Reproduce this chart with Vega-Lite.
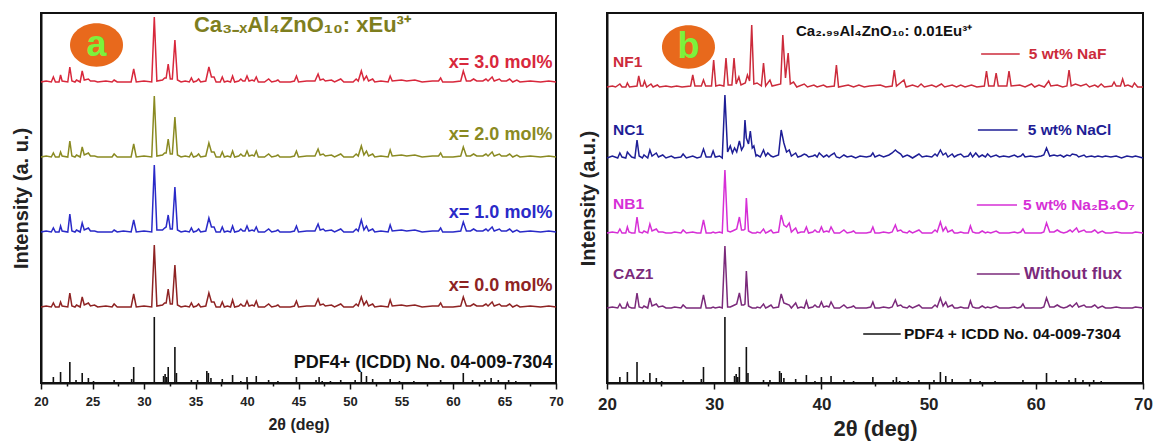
{
"$schema": "https://vega.github.io/schema/vega-lite/v6.json",
"padding": {"left": 10, "top": 12, "right": 5, "bottom": 2},
"background": "white",
"config": {
 "font": "Liberation Sans",
 "view": {"stroke": "#111", "strokeWidth": 2},
 "axis": {"grid": false, "domainColor": "#111", "domainWidth": 2, "tickColor": "#111", "tickWidth": 1.5, "labelColor": "#222", "titleColor": "#222", "labelFontWeight": "bold", "titleFontWeight": "bold", "labelFont": "Liberation Sans", "titleFont": "Liberation Sans"},
 "text": {"fontWeight": "bold", "font": "Liberation Sans"}
},
"resolve": {"scale": {"color": "independent"}},
"datasets": {
 "L": [
{"x":20,"d":76,"b":151,"o":226,"r":301},{"x":20.5,"d":77,"b":152,"o":227,"r":302},{"x":21,"d":76,"b":151,"o":226,"r":301},{"x":21.2,"d":80,"b":155,"o":230,"r":306},{"x":21.4,"d":76,"b":151,"o":226,"r":301},{"x":21.75,"d":76,"b":151,"o":226,"r":301},{"x":21.9,"d":81,"b":157,"o":231,"r":308},{"x":22.05,"d":77,"b":152,"o":227,"r":302},{"x":22.6,"d":76,"b":151,"o":226,"r":301},{"x":22.8,"d":90,"b":169,"o":242,"r":316},{"x":23,"d":77,"b":152,"o":227,"r":302},{"x":23.3,"d":76,"b":151,"o":226,"r":301},{"x":23.45,"d":78,"b":153,"o":228,"r":303},{"x":23.8,"d":76,"b":151,"o":226,"r":301},{"x":24,"d":86,"b":160,"o":236,"r":312},{"x":24.2,"d":78,"b":153,"o":228,"r":303},{"x":24.6,"d":80,"b":155,"o":230,"r":304},{"x":24.8,"d":77,"b":152,"o":227,"r":302},{"x":25.2,"d":78,"b":152,"o":227,"r":302},{"x":25.5,"d":76,"b":151,"o":226,"r":301},{"x":26.3,"d":77,"b":151,"o":226,"r":302},{"x":26.9,"d":76,"b":151,"o":226,"r":301},{"x":27.1,"d":79,"b":153,"o":229,"r":303},{"x":27.4,"d":76,"b":151,"o":226,"r":301},{"x":28,"d":76,"b":152,"o":226,"r":301},{"x":28.75,"d":76,"b":151,"o":226,"r":301},{"x":29,"d":89,"b":163,"o":239,"r":314},{"x":29.25,"d":76,"b":151,"o":226,"r":301},{"x":30,"d":77,"b":152,"o":227,"r":302},{"x":30.75,"d":76,"b":151,"o":226,"r":301},{"x":31,"d":138,"b":218,"o":287,"r":366},{"x":31.25,"d":77,"b":153,"o":227,"r":302},{"x":31.8,"d":78,"b":153,"o":228,"r":303},{"x":32,"d":80,"b":155,"o":230,"r":305},{"x":32.15,"d":80,"b":156,"o":230,"r":305},{"x":32.35,"d":94,"b":168,"o":244,"r":319},{"x":32.55,"d":79,"b":154,"o":229,"r":304},{"x":32.75,"d":79,"b":154,"o":229,"r":304},{"x":33,"d":118,"b":196,"o":266,"r":343},{"x":33.25,"d":78,"b":153,"o":228,"r":303},{"x":33.6,"d":76,"b":151,"o":226,"r":301},{"x":34,"d":77,"b":152,"o":227,"r":302},{"x":34.4,"d":76,"b":151,"o":226,"r":301},{"x":34.6,"d":80,"b":155,"o":230,"r":305},{"x":34.8,"d":76,"b":151,"o":226,"r":301},{"x":35.1,"d":77,"b":152,"o":227,"r":302},{"x":35.3,"d":79,"b":154,"o":229,"r":304},{"x":35.5,"d":76,"b":151,"o":226,"r":301},{"x":36,"d":77,"b":152,"o":227,"r":302},{"x":36.3,"d":90,"b":165,"o":240,"r":316},{"x":36.55,"d":81,"b":156,"o":231,"r":306},{"x":36.8,"d":81,"b":156,"o":231,"r":306},{"x":37,"d":76,"b":151,"o":226,"r":301},{"x":37.4,"d":76,"b":151,"o":226,"r":301},{"x":37.6,"d":81,"b":156,"o":231,"r":306},{"x":37.8,"d":76,"b":151,"o":226,"r":301},{"x":38.1,"d":77,"b":152,"o":227,"r":302},{"x":38.4,"d":76,"b":151,"o":226,"r":301},{"x":38.6,"d":83,"b":157,"o":232,"r":307},{"x":38.8,"d":76,"b":151,"o":226,"r":301},{"x":39.2,"d":77,"b":152,"o":227,"r":302},{"x":39.4,"d":79,"b":154,"o":229,"r":304},{"x":39.6,"d":77,"b":152,"o":227,"r":302},{"x":39.8,"d":77,"b":152,"o":227,"r":302},{"x":40,"d":82,"b":157,"o":232,"r":307},{"x":40.2,"d":77,"b":152,"o":227,"r":302},{"x":40.5,"d":78,"b":153,"o":228,"r":303},{"x":40.7,"d":77,"b":152,"o":227,"r":302},{"x":40.9,"d":82,"b":156,"o":232,"r":306},{"x":41.1,"d":76,"b":151,"o":226,"r":301},{"x":41.7,"d":76,"b":151,"o":226,"r":301},{"x":42.1,"d":79,"b":154,"o":229,"r":304},{"x":42.4,"d":76,"b":151,"o":226,"r":301},{"x":42.8,"d":77,"b":152,"o":227,"r":302},{"x":43,"d":78,"b":153,"o":228,"r":303},{"x":43.2,"d":76,"b":151,"o":226,"r":301},{"x":44.2,"d":76,"b":151,"o":226,"r":301},{"x":44.6,"d":77,"b":152,"o":227,"r":302},{"x":44.8,"d":82,"b":157,"o":232,"r":307},{"x":45,"d":76,"b":151,"o":226,"r":301},{"x":45.8,"d":77,"b":152,"o":227,"r":302},{"x":46.6,"d":77,"b":152,"o":227,"r":302},{"x":46.9,"d":84,"b":159,"o":234,"r":309},{"x":47.1,"d":78,"b":153,"o":228,"r":303},{"x":47.4,"d":79,"b":154,"o":229,"r":304},{"x":47.6,"d":77,"b":152,"o":227,"r":302},{"x":48.2,"d":78,"b":153,"o":228,"r":303},{"x":48.5,"d":76,"b":151,"o":226,"r":301},{"x":49.1,"d":79,"b":154,"o":229,"r":304},{"x":49.4,"d":76,"b":151,"o":226,"r":301},{"x":50.3,"d":76,"b":151,"o":226,"r":301},{"x":50.6,"d":79,"b":154,"o":229,"r":304},{"x":50.8,"d":77,"b":152,"o":227,"r":302},{"x":51.1,"d":86,"b":163,"o":237,"r":312},{"x":51.35,"d":78,"b":153,"o":228,"r":303},{"x":51.6,"d":82,"b":157,"o":232,"r":307},{"x":51.8,"d":77,"b":152,"o":227,"r":302},{"x":52.2,"d":79,"b":154,"o":229,"r":304},{"x":52.4,"d":76,"b":151,"o":226,"r":301},{"x":53,"d":77,"b":152,"o":227,"r":302},{"x":53.7,"d":76,"b":151,"o":226,"r":301},{"x":53.9,"d":83,"b":158,"o":233,"r":307},{"x":54.1,"d":77,"b":152,"o":227,"r":302},{"x":55,"d":78,"b":153,"o":228,"r":303},{"x":55.5,"d":77,"b":152,"o":227,"r":302},{"x":56.3,"d":78,"b":153,"o":228,"r":303},{"x":57,"d":76,"b":151,"o":226,"r":301},{"x":58,"d":77,"b":152,"o":227,"r":302},{"x":58.6,"d":77,"b":152,"o":227,"r":302},{"x":58.8,"d":80,"b":155,"o":230,"r":305},{"x":59,"d":76,"b":151,"o":226,"r":301},{"x":60,"d":76,"b":151,"o":226,"r":301},{"x":60.75,"d":77,"b":152,"o":227,"r":302},{"x":61,"d":86,"b":161,"o":236,"r":312},{"x":61.3,"d":77,"b":152,"o":227,"r":302},{"x":61.7,"d":77,"b":152,"o":227,"r":302},{"x":62,"d":79,"b":154,"o":229,"r":304},{"x":62.3,"d":77,"b":152,"o":227,"r":302},{"x":62.9,"d":77,"b":152,"o":227,"r":302},{"x":63.2,"d":79,"b":154,"o":229,"r":304},{"x":63.4,"d":77,"b":152,"o":227,"r":302},{"x":63.8,"d":81,"b":156,"o":231,"r":306},{"x":64,"d":77,"b":152,"o":227,"r":302},{"x":64.5,"d":79,"b":154,"o":229,"r":304},{"x":64.7,"d":77,"b":152,"o":227,"r":302},{"x":65.2,"d":77,"b":152,"o":227,"r":302},{"x":65.5,"d":79,"b":154,"o":229,"r":304},{"x":65.8,"d":76,"b":151,"o":226,"r":301},{"x":66.2,"d":78,"b":153,"o":228,"r":303},{"x":66.5,"d":76,"b":151,"o":226,"r":301},{"x":67.5,"d":77,"b":152,"o":227,"r":302},{"x":68.5,"d":76,"b":151,"o":226,"r":301},{"x":69.3,"d":77,"b":152,"o":227,"r":302},{"x":70,"d":76,"b":151,"o":226,"r":301}
 ],
 "R": [
{"x":20,"c":75,"m":150,"n":225},{"x":20.5,"c":76,"m":151,"n":227},{"x":21,"c":75,"m":150,"n":225},{"x":21.2,"c":79,"m":154,"n":230},{"x":21.4,"c":75,"m":150,"n":226},{"x":21.75,"c":75,"m":150,"n":225},{"x":21.9,"c":80,"m":156,"n":231},{"x":22.05,"c":76,"m":151,"n":229},{"x":22.3,"c":75,"m":150,"n":226},{"x":22.6,"c":75,"m":150,"n":225},{"x":22.8,"c":90,"m":166,"n":243},{"x":23,"c":76,"m":151,"n":227},{"x":23.3,"c":75,"m":150,"n":225},{"x":23.45,"c":77,"m":152,"n":228},{"x":23.8,"c":75,"m":150,"n":225},{"x":24,"c":85,"m":159,"n":233},{"x":24.2,"c":77,"m":152,"n":227},{"x":24.6,"c":79,"m":154,"n":230},{"x":24.8,"c":76,"m":151,"n":226},{"x":25.2,"c":77,"m":151,"n":228},{"x":25.5,"c":75,"m":150,"n":225},{"x":26,"c":75,"m":150,"n":227},{"x":26.3,"c":76,"m":151,"n":225},{"x":26.9,"c":75,"m":150,"n":226},{"x":27.1,"c":78,"m":153,"n":229},{"x":27.4,"c":75,"m":150,"n":225},{"x":28,"c":75,"m":151,"n":227},{"x":28.4,"c":75,"m":150,"n":225},{"x":28.75,"c":75,"m":150,"n":226},{"x":29,"c":88,"m":163,"n":234},{"x":29.25,"c":75,"m":150,"n":226},{"x":29.7,"c":75,"m":150,"n":226},{"x":29.9,"c":76,"m":151,"n":232},{"x":30.1,"c":75,"m":150,"n":226},{"x":30.5,"c":76,"m":151,"n":227},{"x":30.75,"c":75,"m":150,"n":225},{"x":31,"c":137,"m":213,"n":288},{"x":31.25,"c":76,"m":152,"n":231},{"x":31.5,"c":76,"m":151,"n":237},{"x":31.7,"c":77,"m":152,"n":230},{"x":31.9,"c":78,"m":153,"n":235},{"x":32.1,"c":79,"m":154,"n":231},{"x":32.35,"c":90,"m":166,"n":242},{"x":32.55,"c":78,"m":153,"n":233},{"x":32.75,"c":78,"m":153,"n":237},{"x":32.87,"c":79,"m":154,"n":263},{"x":33,"c":112,"m":185,"n":245},{"x":33.2,"c":77,"m":152,"n":239},{"x":33.37,"c":76,"m":151,"n":252},{"x":33.55,"c":75,"m":150,"n":235},{"x":33.7,"c":75,"m":150,"n":237},{"x":33.9,"c":75,"m":150,"n":227},{"x":34,"c":76,"m":151,"n":228},{"x":34.3,"c":75,"m":150,"n":226},{"x":34.6,"c":79,"m":154,"n":233},{"x":34.8,"c":75,"m":150,"n":227},{"x":35,"c":76,"m":151,"n":230},{"x":35.3,"c":78,"m":153,"n":227},{"x":35.5,"c":75,"m":150,"n":226},{"x":36,"c":76,"m":151,"n":228},{"x":36.25,"c":89,"m":168,"n":253},{"x":36.5,"c":80,"m":158,"n":240},{"x":36.75,"c":79,"m":156,"n":231},{"x":37,"c":78,"m":160,"n":233},{"x":37.2,"c":75,"m":151,"n":227},{"x":37.6,"c":80,"m":155,"n":230},{"x":37.8,"c":75,"m":150,"n":226},{"x":38.1,"c":76,"m":151,"n":227},{"x":38.4,"c":75,"m":151,"n":229},{"x":38.6,"c":82,"m":156,"n":228},{"x":38.8,"c":75,"m":150,"n":226},{"x":39.2,"c":76,"m":151,"n":227},{"x":39.4,"c":78,"m":153,"n":228},{"x":39.6,"c":76,"m":151,"n":226},{"x":39.8,"c":76,"m":151,"n":230},{"x":40,"c":81,"m":156,"n":228},{"x":40.2,"c":76,"m":151,"n":226},{"x":40.5,"c":77,"m":152,"n":228},{"x":40.7,"c":76,"m":151,"n":226},{"x":40.9,"c":81,"m":156,"n":228},{"x":41.2,"c":75,"m":150,"n":230},{"x":41.4,"c":75,"m":150,"n":226},{"x":41.7,"c":75,"m":150,"n":225},{"x":42.1,"c":78,"m":153,"n":228},{"x":42.4,"c":75,"m":150,"n":226},{"x":42.8,"c":76,"m":151,"n":227},{"x":43,"c":77,"m":152,"n":226},{"x":43.2,"c":75,"m":150,"n":225},{"x":43.6,"c":75,"m":150,"n":227},{"x":44.2,"c":75,"m":150,"n":226},{"x":44.6,"c":76,"m":151,"n":227},{"x":44.8,"c":81,"m":156,"n":230},{"x":45,"c":75,"m":150,"n":226},{"x":45.4,"c":75,"m":150,"n":228},{"x":45.8,"c":76,"m":151,"n":226},{"x":46.3,"c":75,"m":150,"n":228},{"x":46.6,"c":76,"m":151,"n":230},{"x":46.9,"c":83,"m":158,"n":233},{"x":47.1,"c":77,"m":152,"n":231},{"x":47.4,"c":78,"m":153,"n":229},{"x":47.6,"c":76,"m":151,"n":226},{"x":48,"c":75,"m":150,"n":228},{"x":48.2,"c":77,"m":152,"n":227},{"x":48.5,"c":75,"m":150,"n":225},{"x":49.1,"c":78,"m":153,"n":229},{"x":49.4,"c":75,"m":150,"n":226},{"x":49.8,"c":75,"m":150,"n":227},{"x":50.3,"c":75,"m":150,"n":226},{"x":50.6,"c":78,"m":153,"n":229},{"x":50.8,"c":76,"m":151,"n":227},{"x":51.1,"c":85,"m":161,"n":233},{"x":51.35,"c":77,"m":152,"n":228},{"x":51.6,"c":81,"m":156,"n":230},{"x":51.8,"c":76,"m":151,"n":226},{"x":52.2,"c":78,"m":153,"n":229},{"x":52.4,"c":75,"m":150,"n":226},{"x":52.7,"c":75,"m":150,"n":228},{"x":53,"c":76,"m":151,"n":229},{"x":53.3,"c":75,"m":150,"n":226},{"x":53.7,"c":75,"m":150,"n":227},{"x":53.9,"c":82,"m":157,"n":230},{"x":54.1,"c":76,"m":151,"n":226},{"x":54.4,"c":75,"m":150,"n":230},{"x":54.7,"c":75,"m":150,"n":226},{"x":55,"c":77,"m":152,"n":228},{"x":55.3,"c":75,"m":150,"n":226},{"x":55.5,"c":76,"m":151,"n":229},{"x":55.8,"c":75,"m":150,"n":226},{"x":56.3,"c":77,"m":152,"n":228},{"x":56.6,"c":75,"m":150,"n":226},{"x":57,"c":75,"m":150,"n":227},{"x":57.5,"c":75,"m":150,"n":226},{"x":58,"c":76,"m":151,"n":228},{"x":58.3,"c":75,"m":150,"n":226},{"x":58.6,"c":76,"m":151,"n":227},{"x":58.8,"c":79,"m":154,"n":229},{"x":59,"c":75,"m":150,"n":226},{"x":59.5,"c":75,"m":150,"n":227},{"x":60,"c":75,"m":150,"n":226},{"x":60.5,"c":75,"m":150,"n":227},{"x":60.75,"c":76,"m":151,"n":228},{"x":61,"c":85,"m":160,"n":235},{"x":61.3,"c":76,"m":151,"n":227},{"x":61.7,"c":76,"m":151,"n":228},{"x":62,"c":78,"m":153,"n":227},{"x":62.3,"c":76,"m":151,"n":228},{"x":62.6,"c":75,"m":150,"n":226},{"x":62.9,"c":76,"m":151,"n":228},{"x":63.2,"c":78,"m":153,"n":227},{"x":63.4,"c":76,"m":151,"n":229},{"x":63.8,"c":80,"m":155,"n":228},{"x":64,"c":76,"m":151,"n":226},{"x":64.5,"c":78,"m":153,"n":228},{"x":64.7,"c":76,"m":151,"n":226},{"x":65.2,"c":76,"m":151,"n":227},{"x":65.5,"c":78,"m":153,"n":226},{"x":65.8,"c":75,"m":150,"n":227},{"x":66.2,"c":77,"m":152,"n":226},{"x":66.5,"c":75,"m":150,"n":227},{"x":67,"c":75,"m":150,"n":226},{"x":67.5,"c":76,"m":151,"n":227},{"x":68,"c":75,"m":150,"n":225},{"x":68.5,"c":75,"m":150,"n":227},{"x":69,"c":75,"m":150,"n":226},{"x":69.3,"c":76,"m":151,"n":227},{"x":70,"c":75,"m":150,"n":225}
 ],
 "NF": [
{"x":20,"y":296},{"x":20.5,"y":297},{"x":20.8,"y":296},{"x":21.2,"y":299},{"x":21.4,"y":296},{"x":21.75,"y":296},{"x":21.9,"y":300},{"x":22.1,"y":296},{"x":22.8,"y":297},{"x":22.96,"y":307},{"x":23.15,"y":297},{"x":23.35,"y":297},{"x":23.5,"y":302},{"x":23.7,"y":296},{"x":24.1,"y":299},{"x":24.3,"y":296},{"x":24.7,"y":298},{"x":24.9,"y":296},{"x":25.5,"y":297},{"x":26,"y":296},{"x":26.5,"y":297},{"x":27,"y":296},{"x":27.8,"y":297},{"x":28,"y":308},{"x":28.2,"y":297},{"x":28.8,"y":297},{"x":29,"y":303},{"x":29.2,"y":297},{"x":29.75,"y":297},{"x":29.95,"y":323},{"x":30.15,"y":297},{"x":30.5,"y":298},{"x":30.9,"y":297},{"x":31.1,"y":325},{"x":31.3,"y":298},{"x":31.65,"y":298},{"x":31.85,"y":325},{"x":32.05,"y":299},{"x":32.3,"y":306},{"x":32.5,"y":298},{"x":32.9,"y":300},{"x":33.1,"y":308},{"x":33.3,"y":302},{"x":33.5,"y":358},{"x":33.7,"y":299},{"x":34,"y":300},{"x":34.4,"y":297},{"x":34.6,"y":320},{"x":34.8,"y":297},{"x":35.2,"y":303},{"x":35.4,"y":297},{"x":36.2,"y":299},{"x":36.4,"y":348},{"x":36.65,"y":305},{"x":36.9,"y":330},{"x":37.1,"y":299},{"x":37.4,"y":301},{"x":37.7,"y":296},{"x":38.4,"y":299},{"x":38.7,"y":296},{"x":39.3,"y":298},{"x":39.6,"y":296},{"x":40.2,"y":298},{"x":40.5,"y":296},{"x":41.2,"y":297},{"x":41.4,"y":318},{"x":41.6,"y":296},{"x":42.5,"y":298},{"x":43,"y":296},{"x":43.5,"y":298},{"x":44,"y":296},{"x":44.5,"y":297},{"x":45.5,"y":298},{"x":46,"y":296},{"x":46.6,"y":297},{"x":46.8,"y":313},{"x":47,"y":297},{"x":47.7,"y":303},{"x":47.9,"y":296},{"x":48.5,"y":298},{"x":49,"y":296},{"x":49.3,"y":299},{"x":49.6,"y":296},{"x":50.3,"y":298},{"x":50.7,"y":296},{"x":51.2,"y":299},{"x":51.5,"y":296},{"x":52.2,"y":298},{"x":52.6,"y":296},{"x":53,"y":298},{"x":53.4,"y":296},{"x":54,"y":298},{"x":54.5,"y":296},{"x":55.2,"y":297},{"x":55.4,"y":312},{"x":55.6,"y":297},{"x":56.1,"y":297},{"x":56.3,"y":310},{"x":56.5,"y":297},{"x":57.3,"y":297},{"x":57.5,"y":312},{"x":57.7,"y":297},{"x":58.5,"y":298},{"x":59,"y":296},{"x":59.6,"y":299},{"x":59.9,"y":296},{"x":60.3,"y":298},{"x":60.8,"y":296},{"x":61.2,"y":302},{"x":61.4,"y":297},{"x":62,"y":298},{"x":62.5,"y":296},{"x":62.9,"y":297},{"x":63.1,"y":313},{"x":63.3,"y":297},{"x":63.7,"y":299},{"x":64.2,"y":297},{"x":64.7,"y":299},{"x":65,"y":296},{"x":65.5,"y":298},{"x":65.8,"y":296},{"x":66.1,"y":299},{"x":66.4,"y":296},{"x":67.1,"y":297},{"x":67.3,"y":301},{"x":67.5,"y":297},{"x":67.9,"y":297},{"x":68.1,"y":304},{"x":68.3,"y":297},{"x":68.6,"y":298},{"x":69,"y":296},{"x":69.2,"y":300},{"x":69.5,"y":296},{"x":70,"y":296}
 ],
 "S": [
{"x":21.2,"y":6},{"x":21.9,"y":11},{"x":22.8,"y":21},{"x":23.4,"y":3},{"x":24.0,"y":10},{"x":24.6,"y":5},{"x":25.1,"y":2},{"x":27.1,"y":3},{"x":28.8,"y":4},{"x":29.0,"y":16},{"x":31.0,"y":66},{"x":31.9,"y":7},{"x":32.05,"y":9},{"x":32.2,"y":6},{"x":32.35,"y":16},{"x":33.0,"y":36},{"x":33.15,"y":10},{"x":34.6,"y":3},{"x":35.2,"y":3},{"x":36.1,"y":12},{"x":36.25,"y":10},{"x":36.5,"y":5},{"x":37.6,"y":4},{"x":38.6,"y":8},{"x":39.4,"y":2},{"x":40.0,"y":6},{"x":40.9,"y":7},{"x":42.1,"y":3},{"x":43.0,"y":2},{"x":44.8,"y":6},{"x":46.7,"y":3},{"x":47.0,"y":6},{"x":47.3,"y":2},{"x":48.1,"y":2},{"x":49.1,"y":3},{"x":50.5,"y":3},{"x":51.1,"y":11},{"x":51.6,"y":7},{"x":52.2,"y":4},{"x":53.9,"y":4},{"x":54.8,"y":2},{"x":56.2,"y":2},{"x":58.8,"y":3},{"x":61.0,"y":10},{"x":61.9,"y":3},{"x":63.1,"y":3},{"x":63.7,"y":5},{"x":64.4,"y":3},{"x":65.4,"y":3},{"x":66.1,"y":2},{"x":67.5,"y":1}
 ]
},
"bounds": "flush",
"spacing": 51,
"hconcat": [
 {
  "width": 515, "height": 370,
  "encoding": {
   "x": {"field": "x", "type": "quantitative", "scale": {"domain": [20, 70], "nice": false, "zero": false},
    "axis": {"title": "2θ (deg)", "values": [20,22.5,25,27.5,30,32.5,35,37.5,40,42.5,45,47.5,50,52.5,55,57.5,60,62.5,65,67.5,70],
     "labelExpr": "datum.value % 5 == 0 ? format(datum.value, 'd') : ''",
     "tickSize": {"condition": {"test": "datum.value % 5 == 0", "value": 6}, "value": 3},
     "labelFontSize": 13, "titleFontSize": 16, "labelPadding": 6, "titlePadding": 8, "labelFlush": false}},
   "y": {"field": "y", "type": "quantitative", "scale": {"domain": [0, 370], "nice": false},
    "axis": {"title": "Intensity (a. u.)", "labels": false, "ticks": false, "titleFontSize": 20, "titlePadding": 10}}
  },
  "layer": [
   {"data": {"name": "L"}, "transform": [{"fold": ["d", "b", "o", "r"], "as": ["s", "y"]}],
    "mark": {"type": "line", "strokeWidth": 1.5},
    "encoding": {"color": {"field": "s", "type": "nominal", "legend": null,
      "scale": {"domain": ["d", "b", "o", "r", "k"], "range": ["#8E2323", "#2A2AC8", "#8A8A22", "#D8283C", "#111111"]}}}},
   {"data": {"name": "S"}, "mark": {"type": "rule", "color": "#111", "strokeWidth": 1.6},
    "encoding": {"y2": {"datum": 0}}},
   {"data": {"values": [
     {"s": "r", "x": 69.65, "y": 320, "t": "x= 3.0 mol%"},
     {"s": "o", "x": 69.65, "y": 248, "t": "x= 2.0 mol%"},
     {"s": "b", "x": 69.65, "y": 170, "t": "x= 1.0 mol%"},
     {"s": "d", "x": 69.65, "y": 97, "t": "x= 0.0 mol%"},
     {"s": "k", "x": 69.65, "y": 20, "t": "PDF4+ (ICDD) No. 04-009-7304"}]},
    "mark": {"type": "text", "align": "right", "baseline": "middle", "fontSize": 18, "fontWeight": "bold"},
    "encoding": {"text": {"field": "t"}, "color": {"field": "s", "type": "nominal", "legend": null,
      "scale": {"domain": ["d", "b", "o", "r", "k"], "range": ["#8E2323", "#2A2AC8", "#8A8A22", "#D8283C", "#111111"]}}}},
   {"data": {"values": [{"x": 34.85, "y": 358, "t": "Ca₃₋ₓAl₄ZnO₁₀: xEu³⁺"}]},
    "mark": {"type": "text", "align": "left", "baseline": "middle", "fontSize": 22, "fontWeight": "bold", "color": "#7E7E1E"},
    "encoding": {"text": {"field": "t"}}},
   {"data": {"values": [{"x": 25.39, "y": 338}]},
    "mark": {"type": "point", "shape": "M-1,0A1,0.82,0,1,1,1,0A1,0.82,0,1,1,-1,0Z", "size": 2809, "filled": true, "color": "#E8691C", "opacity": 1, "strokeWidth": 0}},
   {"data": {"values": [{"x": 25.39, "y": 338, "t": "a"}]},
    "mark": {"type": "text", "align": "center", "baseline": "middle", "fontSize": 36, "fontWeight": "bold", "color": "#7CF23C"},
    "encoding": {"text": {"field": "t"}}}
  ]
 },
 {
  "width": 536, "height": 370,
  "encoding": {
   "x": {"field": "x", "type": "quantitative", "scale": {"domain": [20, 70], "nice": false, "zero": false},
    "axis": {"title": "2θ (deg)", "values": [20,25,30,35,40,45,50,55,60,65,70],
     "labelExpr": "datum.value % 10 == 0 ? format(datum.value, 'd') : ''",
     "tickSize": {"condition": {"test": "datum.value % 10 == 0", "value": 6}, "value": 3},
     "labelFontSize": 17, "titleFontSize": 22, "labelPadding": 7, "titlePadding": 6, "labelFlush": false}},
   "y": {"field": "y", "type": "quantitative", "scale": {"domain": [0, 370], "nice": false},
    "axis": {"title": "Intensity (a.u.)", "labels": false, "ticks": false, "titleFontSize": 20, "titlePadding": 9}}
  },
  "layer": [
   {"data": {"name": "R"}, "transform": [{"fold": ["c", "m", "n"], "as": ["g", "y"]}],
    "mark": {"type": "line", "strokeWidth": 1.5},
    "encoding": {"color": {"field": "g", "type": "nominal", "legend": null,
      "scale": {"domain": ["c", "m", "n", "f", "k"], "range": ["#7B2A7B", "#D62FD6", "#1E1E96", "#CC2B3B", "#111111"]}}}},
   {"data": {"name": "NF"}, "mark": {"type": "line", "strokeWidth": 1.5, "color": "#CC2B3B"}, "encoding": {}},
   {"data": {"name": "S"}, "mark": {"type": "rule", "color": "#111", "strokeWidth": 1.6},
    "encoding": {"y2": {"datum": 0}}},
   {"data": {"values": [
     {"g": "f", "x": 54.9, "x2": 58.5, "y": 329},
     {"g": "n", "x": 54.6, "x2": 58.3, "y": 253},
     {"g": "m", "x": 54.5, "x2": 58.25, "y": 178},
     {"g": "c", "x": 54.5, "x2": 58.5, "y": 109},
     {"g": "k", "x": 43.9, "x2": 47.4, "y": 49}]},
    "mark": {"type": "rule", "strokeWidth": 1.5},
    "encoding": {"x2": {"field": "x2"}, "color": {"field": "g", "type": "nominal", "legend": null,
      "scale": {"domain": ["c", "m", "n", "f", "k"], "range": ["#7B2A7B", "#D62FD6", "#1E1E96", "#CC2B3B", "#111111"]}}}},
   {"data": {"values": [
     {"g": "f", "x": 20.56, "y": 321, "t": "NF1"},
     {"g": "n", "x": 20.56, "y": 253, "t": "NC1"},
     {"g": "m", "x": 20.56, "y": 179, "t": "NB1"},
     {"g": "c", "x": 20.56, "y": 109, "t": "CAZ1"},
     {"g": "f", "x": 59.35, "y": 329, "t": "5 wt% NaF"},
     {"g": "n", "x": 59.25, "y": 253, "t": "5 wt% NaCl"},
     {"g": "m", "x": 58.8, "y": 178, "t": "5 wt% Na₂B₄O₇"},
     {"g": "k", "x": 47.7, "y": 49, "t": "PDF4 + ICDD No. 04-009-7304"}]},
    "mark": {"type": "text", "align": "left", "baseline": "middle", "fontSize": 15.5, "fontWeight": "bold"},
    "encoding": {"text": {"field": "t"}, "color": {"field": "g", "type": "nominal", "legend": null,
      "scale": {"domain": ["c", "m", "n", "f", "k"], "range": ["#7B2A7B", "#D62FD6", "#1E1E96", "#CC2B3B", "#111111"]}}}},
   {"data": {"values": [{"x": 58.9, "y": 109, "t": "Without flux"}]},
    "mark": {"type": "text", "align": "left", "baseline": "middle", "fontSize": 17, "fontWeight": "bold", "color": "#7B2A7B"},
    "encoding": {"text": {"field": "t"}}},
   {"data": {"values": [{"x": 37.63, "y": 352, "t": "Ca₂.₉₉Al₄ZnO₁₀: 0.01Eu³⁺"}]},
    "mark": {"type": "text", "align": "left", "baseline": "middle", "fontSize": 15, "fontWeight": "bold", "color": "#111111"},
    "encoding": {"text": {"field": "t"}}},
   {"data": {"values": [{"x": 27.6, "y": 336}]},
    "mark": {"type": "point", "shape": "M-1,0A1,0.82,0,1,1,1,0A1,0.82,0,1,1,-1,0Z", "size": 2809, "filled": true, "color": "#E8691C", "opacity": 1, "strokeWidth": 0}},
   {"data": {"values": [{"x": 27.6, "y": 336, "t": "b"}]},
    "mark": {"type": "text", "align": "center", "baseline": "middle", "fontSize": 36, "fontWeight": "bold", "color": "#7CF23C"},
    "encoding": {"text": {"field": "t"}}}
  ]
 }
]
}
